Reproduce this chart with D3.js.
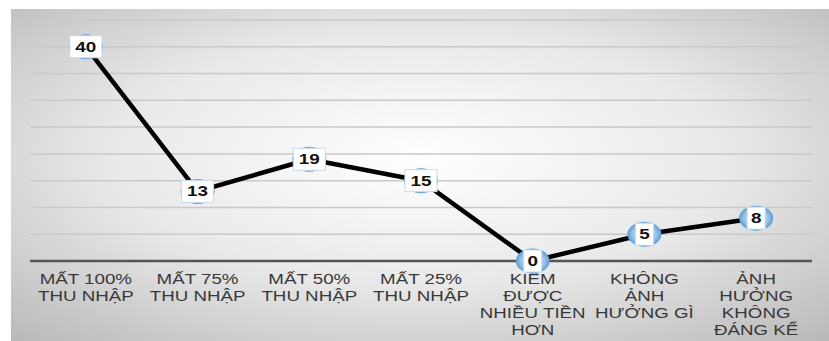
<!DOCTYPE html>
<html>
<head>
    <style>
        body { margin: 0; background: #fff; }
        .cat { font-family: "Liberation Sans", Arial, sans-serif; font-size: 15px; fill: #383838; }
        .val { font-family: "Liberation Sans", Arial, sans-serif; font-size: 14px; font-weight: bold; fill: #111; }
    </style>
</head>
<body>
    <div id="chart"></div>
    <script src="https://cdnjs.cloudflare.com/ajax/libs/d3/7.8.5/d3.min.js"></script>
    <script>
        const categories = [
            ["MẤT 100%", "THU NHẬP"],
            ["MẤT 75%", "THU NHẬP"],
            ["MẤT 50%", "THU NHẬP"],
            ["MẤT 25%", "THU NHẬP"],
            ["KIẾM", "ĐƯỢC", "NHIỀU TIỀN", "HƠN"],
            ["KHÔNG", "ẢNH", "HƯỞNG GÌ"],
            ["ẢNH", "HƯỞNG", "KHÔNG", "ĐÁNG KỂ"]
        ];
        const values = [40, 13, 19, 15, 0, 5, 8];
        const gridTicks = [0, 5, 10, 15, 20, 25, 30, 35, 40, 45];

        const width = 829, height = 341;
        const stretch = 1.25;

        const svg = d3.select("#chart")
            .append("svg")
            .attr("width", width)
            .attr("height", height);

        const defs = svg.append("defs");

        // Panel background: light centre fading to grey at the edges
        const bg = defs.append("radialGradient")
            .attr("id", "bg")
            .attr("cx", "50%").attr("cy", "45%").attr("r", "75%");
        bg.append("stop").attr("offset", "0%").attr("stop-color", "#ffffff");
        bg.append("stop").attr("offset", "50%").attr("stop-color", "#e9e9e9");
        bg.append("stop").attr("offset", "100%").attr("stop-color", "#b8b8b8");

        const mk = defs.append("radialGradient").attr("id", "mk");
        mk.append("stop").attr("offset", "0%").attr("stop-color", "#dbe8f6");
        mk.append("stop").attr("offset", "70%").attr("stop-color", "#9dc3e6");
        mk.append("stop").attr("offset", "100%").attr("stop-color", "#5b9bd5");

        svg.append("rect")
            .attr("x", 11).attr("y", 9)
            .attr("width", width - 11).attr("height", height - 9)
            .attr("fill", "url(#bg)");

        const x = d3.scaleBand()
            .domain(d3.range(categories.length))
            .range([30, 812])
            .padding(0);

        const y = d3.scaleLinear()
            .domain([0, 45])
            .range([261, 20]);

        const cx = i => x(i) + x.bandwidth() / 2;

        // Gridlines
        svg.append("g")
            .selectAll("line")
            .data(gridTicks.filter(d => d > 0))
            .join("line")
            .attr("x1", 30).attr("x2", 812)
            .attr("y1", d => y(d)).attr("y2", d => y(d))
            .attr("stroke", "#c9c9c9")
            .attr("stroke-width", 1.5);

        // Category axis line
        svg.append("line")
            .attr("x1", 30).attr("x2", 812)
            .attr("y1", y(0)).attr("y2", y(0))
            .attr("stroke", "#555")
            .attr("stroke-width", 2.5);

        // Category labels
        const cats = svg.append("g")
            .selectAll("g")
            .data(categories)
            .join("g")
            .attr("transform", (d, i) => `translate(${cx(i)},284) scale(${stretch},1)`);

        cats.append("text")
            .attr("class", "cat")
            .attr("text-anchor", "middle")
            .selectAll("tspan")
            .data(d => d)
            .join("tspan")
            .attr("x", 0)
            .attr("y", (d, i) => i * 17)
            .text(d => d);

        // Line
        const line = d3.line()
            .x((d, i) => cx(i))
            .y(d => y(d));

        svg.append("path")
            .datum(values)
            .attr("d", line)
            .attr("fill", "none")
            .attr("stroke", "#000")
            .attr("stroke-width", 4.5)
            .attr("stroke-linejoin", "round");

        // Markers
        svg.append("g")
            .selectAll("ellipse")
            .data(values)
            .join("ellipse")
            .attr("cx", (d, i) => cx(i))
            .attr("cy", d => y(d))
            .attr("rx", 17)
            .attr("ry", 12.5)
            .attr("fill", "url(#mk)");

        // Data labels
        const labels = svg.append("g")
            .selectAll("g")
            .data(values)
            .join("g")
            .attr("transform", (d, i) => `translate(${cx(i)},${y(d)})`);

        labels.append("rect")
            .attr("x", d => String(d).length > 1 ? -16 : -9)
            .attr("y", -11)
            .attr("width", d => String(d).length > 1 ? 32 : 18)
            .attr("height", 22)
            .attr("fill", "#fff")
            .attr("stroke", "#c5dbef")
            .attr("stroke-width", 1);

        labels.append("text")
            .attr("class", "val")
            .attr("text-anchor", "middle")
            .attr("transform", `scale(${stretch + 0.1},1)`)
            .attr("y", 5)
            .text(d => d);
    </script>
</body>
</html>
